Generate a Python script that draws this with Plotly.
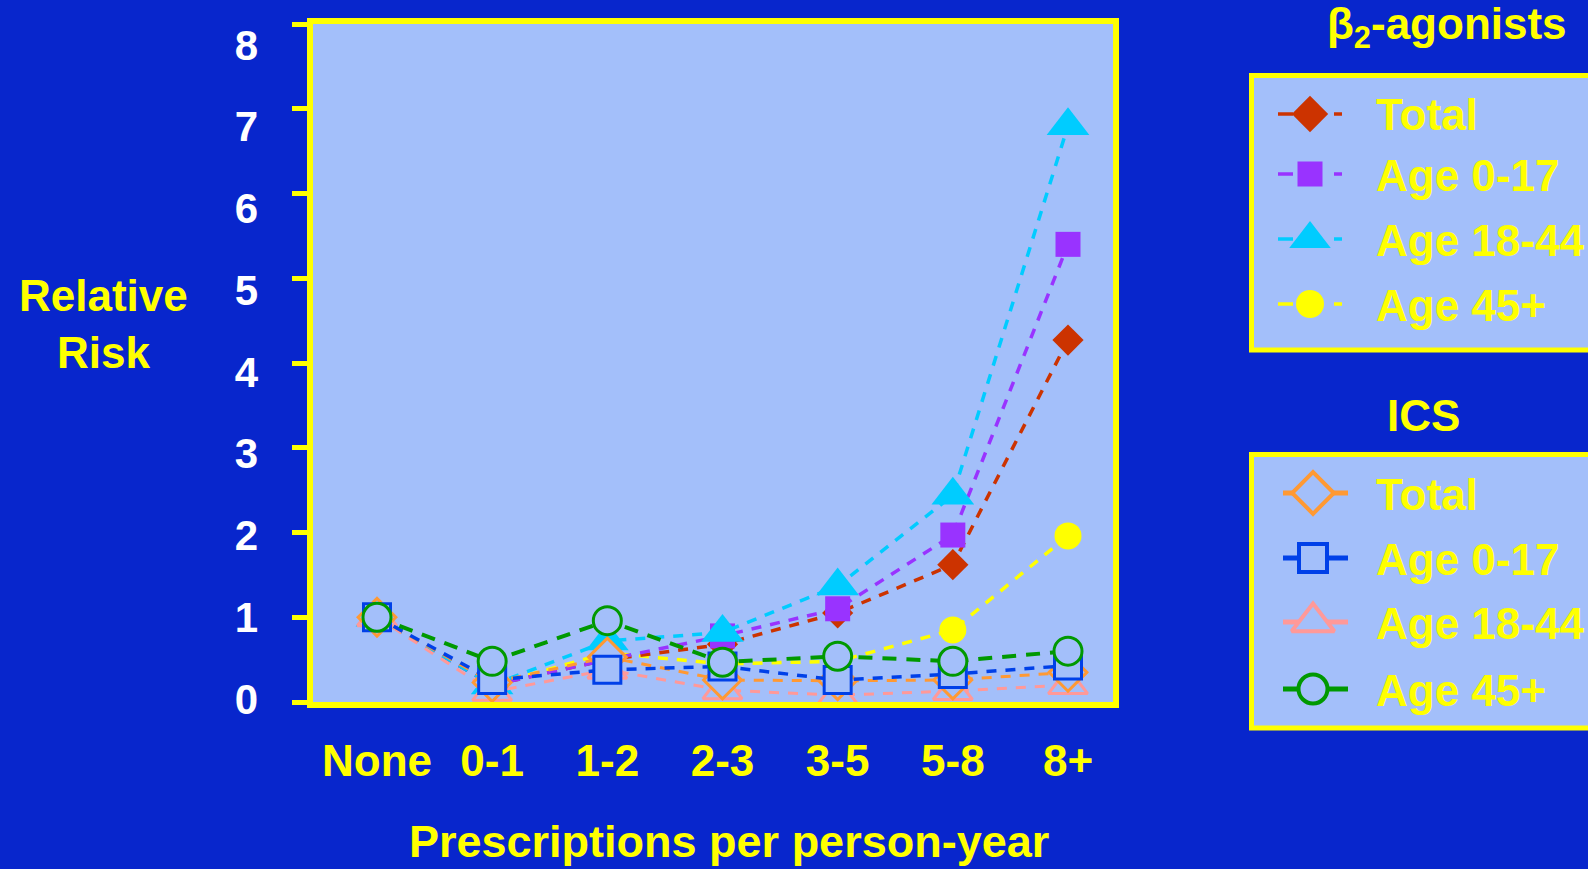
import plotly.graph_objects as go

W, H = 1588, 869


def px(x):
    return x / W


def py(y):
    return 1 - y / H


PAGE_BG = "#0826CC"
PANEL_BG = "#A3BFFA"
YELLOW = "#FFFF00"
WHITE = "#FFFFFF"
FONT = "Arial, Liberation Sans, sans-serif"
FS = 44

# ---- data -------------------------------------------------------------
categories = ["None", "0-1", "1-2", "2-3", "3-5", "5-8", "8+"]
y_ticks = [0, 1, 2, 3, 4, 5, 6, 7, 8]

b2_total = [1.0, 0.2, 0.5, 0.68, 1.05, 1.62, 4.27]
b2_age_0_17 = [1.0, 0.2, 0.5, 0.78, 1.1, 1.97, 5.4]
b2_age_18_44 = [1.0, 0.2, 0.72, 0.82, 1.37, 2.44, 6.8]
b2_age_45 = [1.0, 0.2, 0.58, 0.45, 0.48, 0.85, 1.96]

ics_total = [1.0, 0.23, 0.53, 0.26, 0.25, 0.26, 0.35]
ics_age_0_17 = [1.0, 0.26, 0.38, 0.42, 0.26, 0.33, 0.43]
ics_age_18_44 = [1.0, 0.12, 0.38, 0.14, 0.08, 0.13, 0.2]
ics_age_45 = [1.0, 0.48, 0.96, 0.47, 0.54, 0.48, 0.6]

labels = ["Total", "Age 0-17", "Age 18-44", "Age 45+"]

# (label, values, colour, symbol, marker size, line width, dash)
b2_series = [
    ("Total", b2_total, "#CC3300", "diamond", 24, 3.5, "10px,9px"),
    ("Age 0-17", b2_age_0_17, "#9933FF", "square", 25, 3.5, "10px,9px"),
    ("Age 18-44", b2_age_18_44, "#00CCFF", "triangle-up", 37, 3.5, "10px,9px"),
    ("Age 45+", b2_age_45, "#FFFF00", "circle", 27, 3.5, "10px,9px"),
]
ics_series = [
    ("Total", ics_total, "#FF9933", "diamond", 29, 3, "10px,9px"),
    ("Age 0-17", ics_age_0_17, "#0040E8", "square", 27, 3.5, "10px,9px"),
    ("Age 18-44", ics_age_18_44, "#FF9999", "triangle-up", 34, 3, "10px,9px"),
    ("Age 45+", ics_age_45, "#009900", "circle", 28, 4, "14px,10px"),
]

# drawing order (later = on top)
b2_order = [3, 0, 1, 2]
ics_order = [2, 0, 1, 3]

fig = go.Figure()

for i in b2_order:
    name, vals, col, sym, size, lw, dash = b2_series[i]
    fig.add_trace(go.Scatter(
        x=categories, y=vals, mode="lines+markers", name="β2 " + name,
        line=dict(color=col, width=lw, dash=dash),
        marker=dict(symbol=sym, size=size, color=col, line=dict(width=0)),
        showlegend=False, cliponaxis=False,
    ))

for i in ics_order:
    name, vals, col, sym, size, lw, dash = ics_series[i]
    fig.add_trace(go.Scatter(
        x=categories, y=vals, mode="lines+markers", name="ICS " + name,
        line=dict(color=col, width=lw, dash=dash),
        marker=dict(symbol=sym, size=size, color=PANEL_BG,
                    line=dict(width=3, color=col)),
        showlegend=False, cliponaxis=False,
    ))

# invisible trace so the tick-label axis is created
fig.add_trace(go.Scatter(x=[categories[0]], y=[None], yaxis="y3",
                         showlegend=False, hoverinfo="skip"))

# ---- hand-drawn legend panels ------------------------------------------
b2_rows = [114, 174, 239, 304]
ics_rows = [493, 558, 622, 689]
b2_leg_sizes = [28, 25, 36, 28]
ics_leg_sizes = [32, 28, 37, 29]

for (name, vals, col, sym, size, lw, dash), row, lsz in zip(b2_series, b2_rows, b2_leg_sizes):
    fig.add_trace(go.Scatter(
        x=[1278, 1293, None, 1334, 1342], y=[row, row, None, row, row],
        xaxis="x2", yaxis="y2", mode="lines",
        line=dict(color=col, width=3.5), showlegend=False, hoverinfo="skip"))
    fig.add_trace(go.Scatter(
        x=[1310], y=[row], xaxis="x2", yaxis="y2", mode="markers",
        marker=dict(symbol=sym, size=lsz, color=col, line=dict(width=0)),
        showlegend=False, hoverinfo="skip", cliponaxis=False))

for (name, vals, col, sym, size, lw, dash), row, lsz in zip(ics_series, ics_rows, ics_leg_sizes):
    fig.add_trace(go.Scatter(
        x=[1283, 1348], y=[row, row], xaxis="x2", yaxis="y2", mode="lines",
        line=dict(color=col, width=5), showlegend=False, hoverinfo="skip"))
    fig.add_trace(go.Scatter(
        x=[1313], y=[row], xaxis="x2", yaxis="y2", mode="markers",
        marker=dict(symbol=sym, size=lsz, color=PANEL_BG, line=dict(width=4, color=col)),
        showlegend=False, hoverinfo="skip", cliponaxis=False))

annotations = []
for lab, row in zip(labels, b2_rows):
    annotations.append(dict(x=px(1374), y=py(row + 1), xref="paper", yref="paper",
                            text=lab, showarrow=False, xanchor="left", yanchor="middle",
                            font=dict(family=FONT, size=FS, color=YELLOW, weight="bold")))
for lab, row in zip(labels, ics_rows):
    annotations.append(dict(x=px(1374), y=py(row + 1), xref="paper", yref="paper",
                            text=lab, showarrow=False, xanchor="left", yanchor="middle",
                            font=dict(family=FONT, size=FS, color=YELLOW, weight="bold")))

annotations += [
    dict(x=px(1447), y=py(27), xref="paper", yref="paper",
         text="β<sub>2</sub>-agonists", showarrow=False, xanchor="center", yanchor="middle",
         font=dict(family=FONT, size=FS, color=YELLOW, weight="bold")),
    dict(x=px(1423), y=py(415), xref="paper", yref="paper",
         text="ICS", showarrow=False, xanchor="center", yanchor="middle",
         font=dict(family=FONT, size=FS, color=YELLOW, weight="bold")),
    dict(x=px(103), y=py(324), xref="paper", yref="paper",
         text="Relative<br>Risk", showarrow=False, xanchor="center", yanchor="middle",
         font=dict(family=FONT, size=FS, color=YELLOW, weight="bold")),
    dict(x=px(729), y=py(841), xref="paper", yref="paper",
         text="Prescriptions per person-year", showarrow=False,
         xanchor="center", yanchor="middle",
         font=dict(family=FONT, size=FS + 1, color=YELLOW, weight="bold")),
]

shapes = [
    # plot panel
    dict(type="rect", xref="x domain", yref="y domain", x0=0, x1=1, y0=0, y1=1,
         fillcolor=PANEL_BG, line=dict(width=0), layer="below"),
    # legend panels
    dict(type="rect", xref="paper", yref="paper", x0=px(1251.5), x1=px(1610),
         y0=py(350), y1=py(75.5), fillcolor=PANEL_BG,
         line=dict(color=YELLOW, width=5), layer="below"),
    dict(type="rect", xref="paper", yref="paper", x0=px(1251.5), x1=px(1610),
         y0=py(728), y1=py(454.5), fillcolor=PANEL_BG,
         line=dict(color=YELLOW, width=5), layer="below"),
]

# main plot inner edges (px)
L, R, T, B = 313, 1113, 24, 702
x_first, x_last = 377, 1068
unit_x = (x_last - x_first) / (len(categories) - 1)
x_range = [-(x_first - L) / unit_x, len(categories) - 1 + (R - x_last) / unit_x]

y_range = [0, 8]

# tick-label axis: label "0" centred at 699 px, "8" centred at 45 px
lab0_px, lab8_px = 699, 45
unit_l = (lab0_px - lab8_px) / 8
label_range = [(lab0_px - B) / unit_l, (lab0_px - T) / unit_l]

fig.update_layout(
    width=W, height=H, autosize=False,
    margin=dict(l=0, r=0, t=0, b=0, autoexpand=False),
    paper_bgcolor=PAGE_BG, plot_bgcolor="rgba(0,0,0,0)",
    font=dict(family=FONT, size=FS, color=YELLOW),
    showlegend=False,
    xaxis=dict(
        domain=[px(L), px(R)], type="category", categoryarray=categories,
        range=x_range, showline=True, linecolor=YELLOW, linewidth=6, mirror=True,
        ticks="", showgrid=False, zeroline=False, automargin=False,
        tickfont=dict(family=FONT, size=FS, color=YELLOW, weight="bold"),
        ticklabelstandoff=15,
    ),
    yaxis=dict(
        domain=[py(B), py(T)], range=y_range, tickvals=y_ticks,
        showline=True, linecolor=YELLOW, linewidth=6, mirror=True,
        ticks="outside", ticklen=15, tickwidth=5, tickcolor=YELLOW,
        showticklabels=False, showgrid=False, zeroline=False, automargin=False,
    ),
    yaxis3=dict(
        overlaying="y", anchor="x", side="left", range=label_range,
        tickvals=y_ticks, ticktext=[str(v) for v in y_ticks],
        showline=False, ticks="", showgrid=False, zeroline=False, automargin=False,
        tickfont=dict(family=FONT, size=FS - 2, color=WHITE, weight="bold"),
        ticklabelstandoff=54,
    ),
    xaxis2=dict(domain=[px(1250), 1], range=[1250, W], anchor="y2",
                visible=False, fixedrange=True, automargin=False),
    yaxis2=dict(domain=[0, 1], range=[H, 0], anchor="x2",
                visible=False, fixedrange=True, automargin=False),
    shapes=shapes,
    annotations=annotations,
)

fig.write_html("out.html")
